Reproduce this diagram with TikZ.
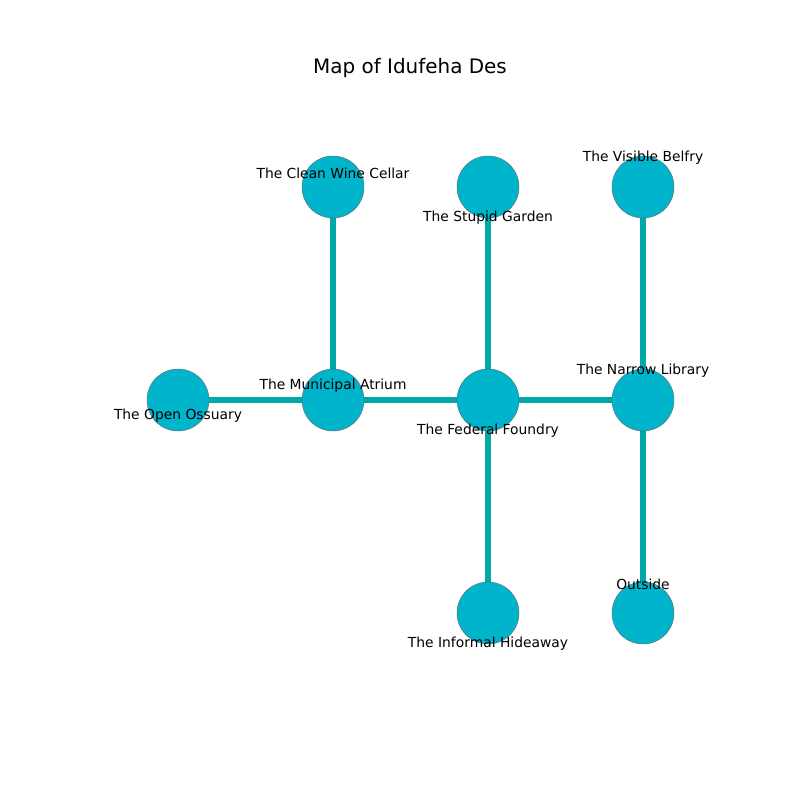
\documentclass[tikz,border=0pt]{standalone}
\usepackage{fontspec}
\setmainfont{DejaVu Sans}
\usetikzlibrary{backgrounds}
\definecolor{placefill}{HTML}{00B4CC}
\definecolor{roadteal}{HTML}{00A8A8}

\begin{document}
\begin{tikzpicture}[
    x=0.01in, y=-0.01in,
    every node/.style={font=\fontsize{10}{12}\selectfont},
    place/.style={circle, draw=gray!80!black, line width=0.3pt, fill=placefill, minimum size=0.62in, inner sep=0pt},
    tag/.style={inner sep=0pt, anchor=center},
    road/.style={draw=roadteal, line width=3.8pt}
]
\useasboundingbox (0,0) rectangle (800,800);
\node[font=\fontsize{14.4}{17}\selectfont] (title) at (410,68) {Map of Idufeha Des};

% places
\node[place] (cellar) at (333,187) {};
\node[place] (garden) at (488,187) {};
\node[place] (belfry) at (643,187) {};
\node[place] (ossuary) at (178,400) {};
\node[place] (atrium) at (333,400) {};
\node[place] (foundry) at (488,400) {};
\node[place] (library) at (643,400) {};
\node[place] (hideaway) at (488,613) {};
\node[place] (outside) at (643,613) {};

% roads
\begin{scope}[on background layer]
\draw[road] (cellar.center) -- (atrium.center);
\draw[road] (garden.center) -- (foundry.center);
\draw[road] (belfry.center) -- (library.center);
\draw[road] (ossuary.center) -- (atrium.center);
\draw[road] (atrium.center) -- (foundry.center);
\draw[road] (foundry.center) -- (library.center);
\draw[road] (foundry.center) -- (hideaway.center);
\draw[road] (library.center) -- (outside.center);
\end{scope}

% names
\node[tag] (cellar-name) at (333,173) {The Clean Wine Cellar};
\node[tag] (garden-name) at (488,218) {The Stupid Garden};
\node[tag] (belfry-name) at (643,158) {The Visible Belfry};
\node[tag] (ossuary-name) at (178,416) {The Open Ossuary};
\node[tag] (atrium-name) at (333,386) {The Municipal Atrium};
\node[tag] (foundry-name) at (488,431) {The Federal Foundry};
\node[tag] (library-name) at (643,371) {The Narrow Library};
\node[tag] (hideaway-name) at (488,644) {The Informal Hideaway};
\node[tag] (outside-name) at (643,584) {Outside};
\end{tikzpicture}
\end{document}
